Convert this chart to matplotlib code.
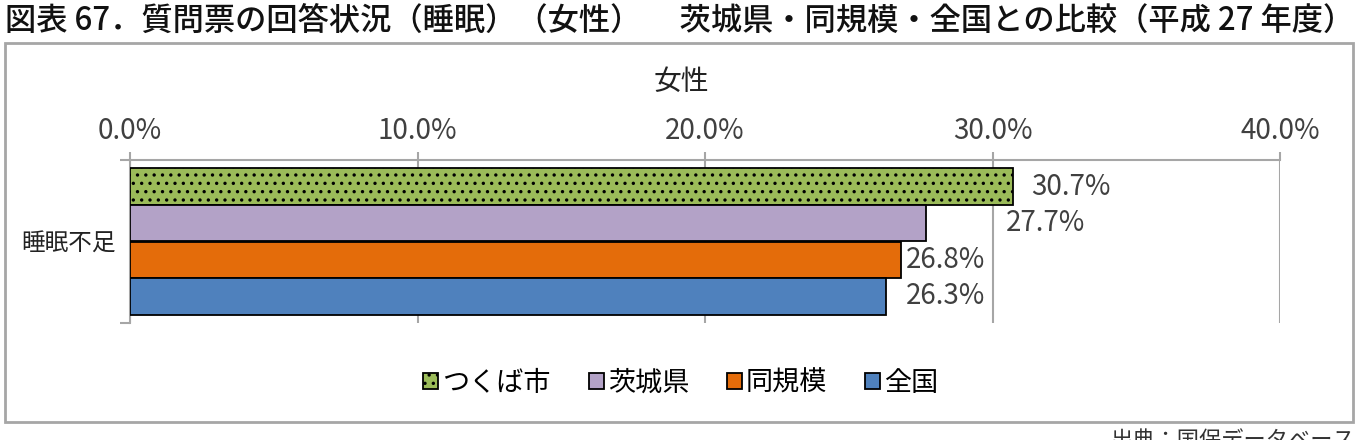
import matplotlib.pyplot as plt
from matplotlib.patches import Rectangle

plt.rcParams["font.family"] = ["Noto Sans CJK JP", "DejaVu Sans"]
plt.rcParams["hatch.linewidth"] = 1.2

# data
category = "睡眠不足"
series = ["つくば市", "茨城県", "同規模", "全国"]
values = [30.7, 27.7, 26.8, 26.3]
colors = ["#9BBB59", "#B3A2C7", "#E46C0A", "#4F81BD"]
hatches = ["..", None, None, None]
# label offsets (points) as drawn by Excel
label_dx = [13, 57, 4, 14]
xticks = [0, 10, 20, 30, 40]

fig = plt.figure(figsize=(13.62, 4.40), dpi=100)

# outer chart border
fig.patches.append(Rectangle((5 / 1362, 1 - 422 / 440), 1348 / 1362, 379 / 440,
                             transform=fig.transFigure, fill=False,
                             edgecolor="#A6A6A6", linewidth=2))

fig.text(5 / 1362, 1 - 21 / 440,
         "図表 67．質問票の回答状況（睡眠）（女性）　 茨城県・同規模・全国との比較（平成 27 年度）",
         fontsize=22.5, va="center", ha="left", color="#111111",
         fontweight="medium")
fig.text(0.5, 1 - 82 / 440, "女性", fontsize=20, ha="center", va="center",
         color="#222222")
fig.text(1355 / 1362, 1 - 429 / 440, "出典：国保データベース", fontsize=16,
         ha="right", va="top", color="#333333")

ax = fig.add_axes([130 / 1362, 1 - 323 / 440, 1150 / 1362, 163 / 440])

bar_h = 0.224
for i, (name, v, c, h) in enumerate(zip(series, values, colors, hatches)):
    y = (1.5 - i) * bar_h
    ax.barh(y, v, height=bar_h, color=c, edgecolor="black", linewidth=1.3,
            hatch=h, label=name, zorder=3)
    ax.annotate(f"{v:.1f}%", (v, y), xytext=(label_dx[i], 0),
                textcoords="offset points", va="center", ha="left",
                fontsize=20, color="#404040")

ax.set_xlim(0, 40)
ax.set_ylim(-0.5, 0.5)
ax.xaxis.tick_top()
ax.set_xticks(xticks)
ax.set_xticklabels([f"{t:.1f}%" for t in xticks], fontsize=20, color="#404040")
ax.tick_params(axis="x", direction="out", length=6, color="#A6A6A6", width=1.5,
               pad=4)
ax.grid(axis="x", color="#A6A6A6", linewidth=1.5, zorder=0)

ax.set_yticks([0])
ax.set_yticklabels([category], fontsize=17, color="#222222")
ax.tick_params(axis="y", length=0, pad=10)
ax.set_yticks([-0.5, 0.5], minor=True)
ax.tick_params(axis="y", which="minor", length=7, color="#A6A6A6", width=1.5)

for s in ["right", "bottom"]:
    ax.spines[s].set_visible(False)
for s in ["top", "left"]:
    ax.spines[s].set_color("#A6A6A6")
    ax.spines[s].set_linewidth(1.5)

fig.legend(loc="center", bbox_to_anchor=(0.5, 1 - 383 / 440), ncol=4,
           frameon=False, fontsize=19.5, handlelength=0.55, handleheight=0.55,
           handletextpad=0.15, columnspacing=1.4)

fig.savefig("out.png", dpi=100)
